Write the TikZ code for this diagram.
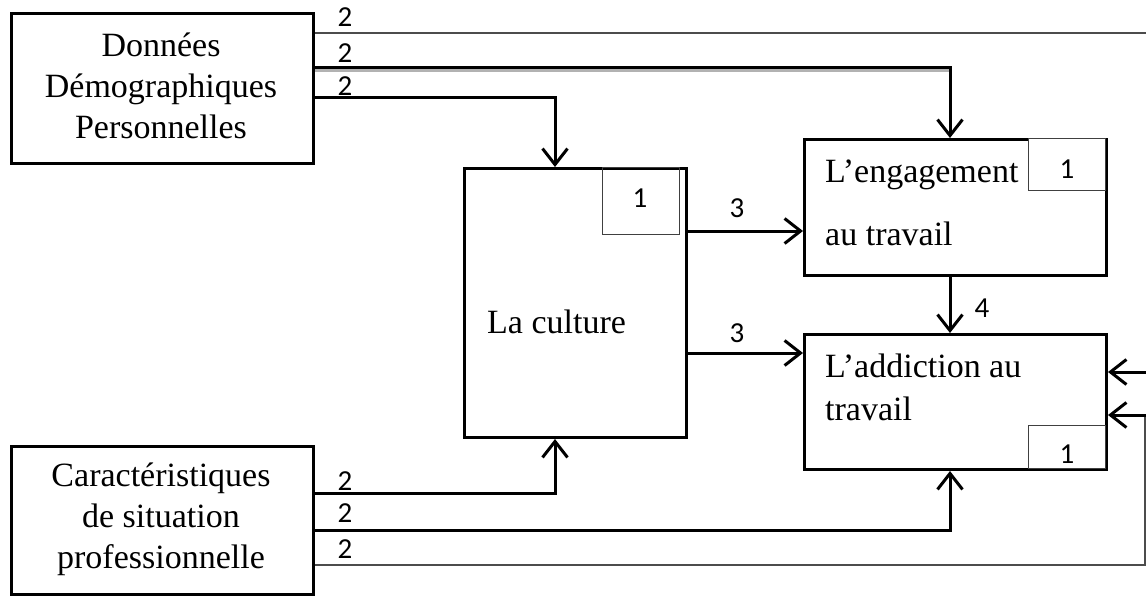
\documentclass[tikz,border=0pt]{standalone}
\usepackage{fontspec}
\setmainfont{Liberation Serif}
\newfontfamily\numfont{Carlito}
\usetikzlibrary{arrows.meta}
\tikzset{
  mainbox/.style={draw=black, line width=3pt, minimum width=#1, inner sep=0pt, anchor=north west},
  smallbox/.style={draw=black!75, line width=1.4pt, inner sep=0pt, anchor=north west},
  txt/.style={font=\fontsize{34}{41}\selectfont, inner sep=0pt},
  num/.style={font=\numfont\fontsize{29}{33}\selectfont, inner sep=0pt, anchor=base},
  link/.style={line width=3pt, black},
  thinlink/.style={line width=1.6pt, black!70},
  arr/.style={-{Straight Barb[length=16pt,width=25pt]}},
}
\begin{document}
\begin{tikzpicture}[x=1pt,y=-1pt]
\useasboundingbox (0,0) rectangle (1146,597);
% main boxes
\node[mainbox=302pt, minimum height=150pt] (dem) at (10,12) {};
\node[txt, align=center] (demt) at (161,86) {Données\\Démographiques\\Personnelles};
\node[mainbox=302pt, minimum height=148pt] (car) at (10,445) {};
\node[txt, align=center] (cart) at (161,519) {Caractéristiques\\de situation\\professionnelle};
\node[mainbox=222pt, minimum height=269pt] (cul) at (463,167) {};
\node[txt, anchor=base west] (cult) at (487,333) {La culture};
\node[mainbox=302pt, minimum height=136pt] (eng) at (803,138) {};
\node[txt, anchor=base west] (engt1) at (825,182) {L’engagement};
\node[txt, anchor=base west] (engt2) at (825,245) {au travail};
\node[mainbox=302pt, minimum height=135pt] (add) at (803,333) {};
\node[txt, anchor=base west] (addt1) at (825,377) {L’addiction au};
\node[txt, anchor=base west] (addt2) at (825,420) {travail};
% small boxes
\node[smallbox, minimum width=77pt, minimum height=67pt] (sb1) at (602,167) {};
\node[num] (n1) at (640,207) {1};
\node[smallbox, minimum width=77pt, minimum height=52pt, fill=white] (sb2) at (1028,138) {};
\node[num] (n2) at (1067,178) {1};
\node[smallbox, minimum width=77pt, minimum height=43pt] (sb3) at (1028,425) {};
\node[num] (n3) at (1067,463) {1};
% coordinates
\coordinate (t1) at (1146,33);
\coordinate (t2) at (950,67);
\coordinate (t2s) at (950,70.5);
\coordinate (t3) at (555,97);
\coordinate (b1) at (555,493);
\coordinate (b2) at (950,530);
\coordinate (b3) at (1145,565);
\coordinate (b3u) at (1145,415);
\coordinate (r1) at (1146,372);
\coordinate (r2) at (1146,415);
\coordinate (c1) at (685,231);
\coordinate (c2) at (685,353);
% top connectors
\draw[thinlink] (dem.east |- t1) -- (t1);
\draw[line width=3pt, black!30] (dem.east |- t2s) -- (t2s);
\draw[link, arr] (dem.east |- t2) -- (t2) -- (t2 |- eng.north);
\draw[link, arr] (dem.east |- t3) -- (t3) -- (t3 |- cul.north);
% bottom connectors
\draw[link, arr] (car.east |- b1) -- (b1) -- (b1 |- cul.south);
\draw[link, arr] (car.east |- b2) -- (b2) -- (b2 |- add.south);
\draw[thinlink] (car.east |- b3) -- (b3) -- (b3u);
% right connectors
\draw[link, arr] (r1) -- (r1 -| add.east);
\draw[link, arr] (r2) -- (r2 -| add.east);
% middle connectors
\draw[link, arr] (c1) -- (c1 -| eng.west);
\draw[link, arr] (c2) -- (c2 -| add.west);
\draw[link, arr] (eng.south -| t2) -- (t2 |- add.north);
% labels
\node[num] (l1) at (345,27) {2};
\node[num] (l2) at (345,62) {2};
\node[num] (l3) at (345,95) {2};
\node[num] (l4) at (345,490) {2};
\node[num] (l5) at (345,522) {2};
\node[num] (l6) at (345,558) {2};
\node[num] (l7) at (737,217) {3};
\node[num] (l8) at (737,342) {3};
\node[num] (l9) at (982,317) {4};
\end{tikzpicture}
\end{document}
